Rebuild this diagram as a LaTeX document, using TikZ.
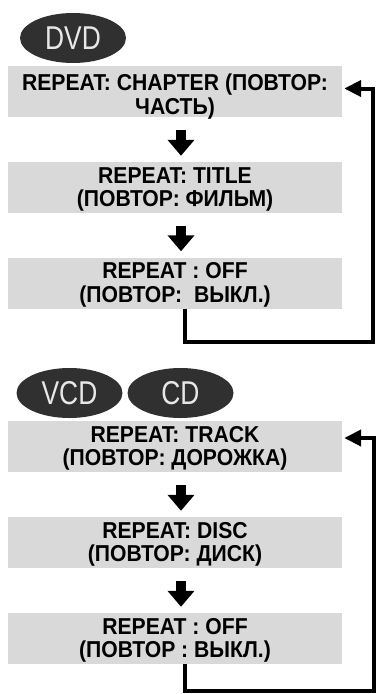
\documentclass[tikz,border=0pt]{standalone}
\usepackage{fontspec}
\setmainfont{Liberation Sans}
\newfontfamily\boxfont[FakeStretch=0.92]{Liberation Sans}
\newfontfamily\discfont[FakeStretch=0.8]{Liberation Sans}
\usetikzlibrary{arrows.meta,shapes.geometric,calc}
\definecolor{boxgray}{HTML}{D9D9D9}
\definecolor{discdark}{HTML}{303030}
\definecolor{disctext}{HTML}{E8E8E8}
\begin{document}
\begin{tikzpicture}[x=1pt,y=1pt,
  stepbox/.style={fill=boxgray, minimum width=334pt, minimum height=51pt, inner sep=0pt},
  steptext/.style={inner sep=0pt, align=center,
    font=\boxfont\bfseries\fontsize{23}{23.5}\selectfont},
  disc/.style={ellipse, fill=discdark, text=disctext, minimum width=106pt, minimum height=50pt, inner sep=0pt,
    font=\discfont\fontsize{33}{33}\selectfont},
  downarrow/.style={line width=10pt, -{Triangle[width=26pt,length=16pt]}},
  loopline/.style={line width=4pt, -{Triangle[width=16pt,length=17pt]}}]
\useasboundingbox (0,0) rectangle (377,-694);

% DVD group
\node[disc] (dvd) at (73,-38) {DVD};
\node[stepbox] (b1) at (175,-91.5) {};
\node[steptext] (t1) at ([yshift=-5pt]b1.center) {REPEAT: CHAPTER (ПОВТОР:\\ЧАСТЬ)};
\node[stepbox] (b2) at (175,-187.5) {};
\node[steptext] (t2) at ([yshift=-2pt]b2.center) {REPEAT: TITLE\\(ПОВТОР: ФИЛЬМ)};
\node[stepbox] (b3) at (175,-283) {};
\node[steptext] (t3) at ([yshift=-2pt]b3.center) {REPEAT : OFF\\(ПОВТОР:\ \ ВЫКЛ.)};
\draw[downarrow] ([xshift=6pt,yshift=-13pt]b1.south) -- ([xshift=6pt,yshift=6pt]b2.north);
\draw[downarrow] ([xshift=6pt,yshift=-13pt]b2.south) -- ([xshift=6pt,yshift=6pt]b3.north);
\coordinate (r1) at (373,-342);
\draw[loopline] ([xshift=9.5pt]b3.south) |- (r1) |- ([xshift=2pt,yshift=3pt]b1.east);

% VCD / CD group
\node[disc] (vcd) at (69.5,-393) {VCD};
\node[disc] (cd) at (180.5,-393) {CD};
\node[stepbox] (b4) at (175,-446.5) {};
\node[steptext] (t4) at ([yshift=-2pt]b4.center) {REPEAT: TRACK\\(ПОВТОР: ДОРОЖКА)};
\node[stepbox] (b5) at (175,-542.5) {};
\node[steptext] (t5) at ([yshift=-2pt]b5.center) {REPEAT: DISC\\(ПОВТОР: ДИСК)};
\node[stepbox] (b6) at (175,-638.5) {};
\node[steptext] (t6) at ([yshift=-2pt]b6.center) {REPEAT : OFF\\(ПОВТОР : ВЫКЛ.)};
\draw[downarrow] ([xshift=6pt,yshift=-13pt]b4.south) -- ([xshift=6pt,yshift=6pt]b5.north);
\draw[downarrow] ([xshift=6pt,yshift=-13pt]b5.south) -- ([xshift=6pt,yshift=6pt]b6.north);
\coordinate (r2) at (374,-691);
\draw[loopline] ([xshift=9.5pt]b6.south) |- (r2) |- ([xshift=2pt,yshift=8.5pt]b4.east);
\end{tikzpicture}
\end{document}
